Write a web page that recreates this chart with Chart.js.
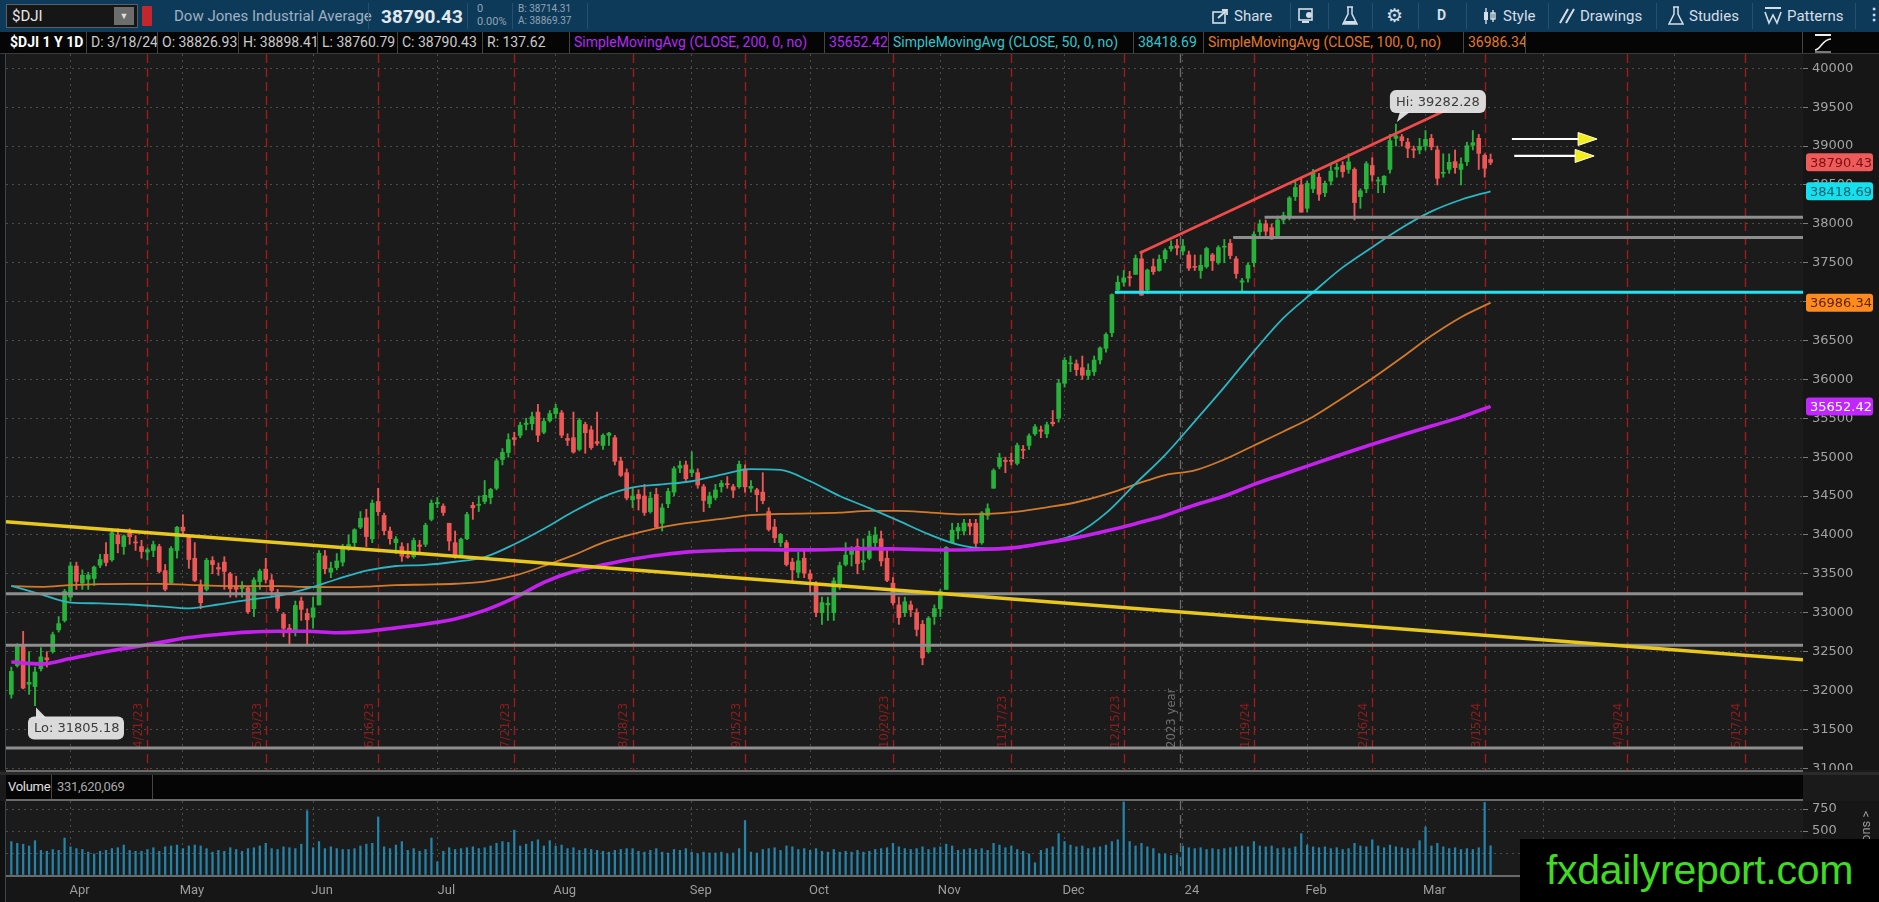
<!DOCTYPE html>
<html><head><meta charset="utf-8">
<script src="https://cdn.jsdelivr.net/npm/chart.js@4.4.1/dist/chart.umd.min.js"></script>
<style>
html,body{margin:0;padding:0;background:#1a1a1a;width:1879px;height:902px;overflow:hidden;font-family:Roboto,"Open Sans",sans-serif;}
.abs{position:absolute;}
#r1{position:absolute;left:0;top:0;width:1879px;height:32px;background:#0e3a5a;}
#r2{position:absolute;left:0;top:32px;width:1879px;height:22px;background:#050505;border-bottom:1px solid #3a3a3a;box-sizing:border-box;}
.c{position:absolute;top:0;height:21px;line-height:21px;border-right:1px solid #454545;padding-left:4px;box-sizing:border-box;white-space:nowrap;overflow:hidden;font-size:14px;color:#c9c9c9;}
.t1{position:absolute;color:#d5dee6;font-size:15px;white-space:nowrap;}
.sep{position:absolute;top:3px;width:1px;height:26px;background:#25506f;}
#vh{position:absolute;left:6px;top:775px;width:1797px;height:24px;background:#050505;}
.vc{position:absolute;top:0;height:24px;line-height:24px;border-right:1px solid #454545;padding-left:2px;box-sizing:border-box;font-size:13px;white-space:nowrap;overflow:hidden;letter-spacing:-0.3px;}
#wm{position:absolute;left:1520px;top:839px;width:359px;height:63px;background:#000;color:#3fdc22;font-family:"Liberation Sans",Arial,sans-serif;font-size:41px;line-height:63px;text-align:center;letter-spacing:-0.3px;}
canvas{position:absolute;left:0;}
</style></head><body>

<div id="r1">
  <div class="abs" style="left:6px;top:4px;width:132px;height:24px;background:#161616;border:1px solid #56606a;box-sizing:border-box;"></div>
  <div class="abs" style="left:12px;top:4px;height:24px;line-height:24px;color:#e6e6e6;font-size:15px;">$DJI</div>
  <div class="abs" style="left:114px;top:7px;width:20px;height:18px;background:#6d6d6d;color:#ddd;font-size:9px;line-height:18px;text-align:center;">&#9660;</div>
  <div class="abs" style="left:142px;top:6px;width:10px;height:20px;background:#c4262d;border-radius:1px;"></div>
  <div class="t1" style="left:174px;top:7px;color:#9fb1c2;font-size:15px;">Dow Jones Industrial Average</div>
  <div class="sep" style="left:368px;"></div>
  <div class="t1" style="left:381px;top:5px;color:#e1e8ee;font-size:19px;font-weight:bold;">38790.43</div>
  <div class="sep" style="left:467px;"></div>
  <div class="t1" style="left:477px;top:2px;color:#8ea3b5;font-size:11px;">0</div>
  <div class="t1" style="left:477px;top:15px;color:#8ea3b5;font-size:11px;">0.00%</div>
  <div class="sep" style="left:512px;"></div>
  <div class="t1" style="left:518px;top:3px;color:#8ea3b5;font-size:10px;">B: 38714.31</div>
  <div class="t1" style="left:518px;top:15px;color:#8ea3b5;font-size:10px;">A: 38869.37</div>
  <div class="sep" style="left:587px;"></div>

  <svg class="abs" style="left:1212px;top:8px" width="18" height="16" viewBox="0 0 18 16"><rect x="1" y="4" width="12" height="11" fill="none" stroke="#d5dee6" stroke-width="1.6"/><path d="M6 10 L15 2 M10 2 L15 2 L15 7" fill="none" stroke="#d5dee6" stroke-width="1.8"/></svg>
  <div class="t1" style="left:1234px;top:7px;">Share</div>
  <div class="sep" style="left:1290px;"></div>
  <svg class="abs" style="left:1298px;top:7px" width="18" height="18" viewBox="0 0 18 18"><rect x="1" y="2" width="13" height="11" fill="none" stroke="#d5dee6" stroke-width="1.6"/><circle cx="11" cy="8" r="3" fill="#d5dee6"/><rect x="4" y="14" width="7" height="2" fill="#d5dee6"/></svg>
  <div class="sep" style="left:1328px;"></div>
  <svg class="abs" style="left:1342px;top:6px" width="16" height="20" viewBox="0 0 16 20"><path d="M5 1 H11 M6 1 V8 L1 18 H15 L10 8 V1" fill="none" stroke="#d5dee6" stroke-width="1.5"/><path d="M3 15 L13 15 L14.5 18 H1.5Z" fill="#d5dee6"/></svg>
  <div class="sep" style="left:1372px;"></div>
  <div class="t1" style="left:1386px;top:4px;font-family:'DejaVu Sans';font-size:19px;">&#9881;</div>
  <div class="sep" style="left:1418px;"></div>
  <div class="t1" style="left:1437px;top:7px;font-weight:bold;font-size:14px;">D</div>
  <div class="sep" style="left:1466px;"></div>
  <svg class="abs" style="left:1482px;top:7px" width="16" height="18" viewBox="0 0 16 18"><path d="M4 1 V17 M11 3 V15" stroke="#d5dee6" stroke-width="1.4"/><rect x="2" y="5" width="4" height="8" fill="#d5dee6"/><rect x="9" y="6" width="4" height="6" fill="none" stroke="#d5dee6" stroke-width="1.4"/></svg>
  <div class="t1" style="left:1503px;top:7px;">Style</div>
  <div class="sep" style="left:1548px;"></div>
  <svg class="abs" style="left:1558px;top:8px" width="18" height="16" viewBox="0 0 18 16"><path d="M2 15 L10 1 M8 15 L16 1" stroke="#d5dee6" stroke-width="2"/></svg>
  <div class="t1" style="left:1580px;top:7px;">Drawings</div>
  <div class="sep" style="left:1656px;"></div>
  <svg class="abs" style="left:1668px;top:6px" width="16" height="20" viewBox="0 0 16 20"><path d="M5 1 H11 M6 1 V8 L1 18 H15 L10 8 V1" fill="none" stroke="#d5dee6" stroke-width="1.5"/></svg>
  <div class="t1" style="left:1689px;top:7px;">Studies</div>
  <div class="sep" style="left:1752px;"></div>
  <svg class="abs" style="left:1764px;top:6px" width="18" height="20" viewBox="0 0 18 20"><path d="M1 2 H17" stroke="#d5dee6" stroke-width="2"/><path d="M1 6 L5 17 L9 9 L13 17 L17 6" fill="none" stroke="#d5dee6" stroke-width="1.6"/></svg>
  <div class="t1" style="left:1787px;top:7px;">Patterns</div>
  <div class="sep" style="left:1855px;"></div>
  <div class="t1" style="left:1866px;top:5px;font-size:16px;font-weight:bold;">&#8942;</div>
</div>

<div id="r2">
  <div class="c" style="left:6px;width:81px;color:#fff;font-weight:bold;">$DJI 1 Y 1D</div>
  <div class="c" style="left:87px;width:71px;">D: 3/18/24</div>
  <div class="c" style="left:158px;width:81px;">O: 38826.93</div>
  <div class="c" style="left:239px;width:79px;">H: 38898.41</div>
  <div class="c" style="left:318px;width:80px;">L: 38760.79</div>
  <div class="c" style="left:398px;width:85px;">C: 38790.43</div>
  <div class="c" style="left:483px;width:87px;">R: 137.62</div>
  <div class="c" style="left:570px;width:255px;color:#b02cf0;">SimpleMovingAvg (CLOSE, 200, 0, no)</div>
  <div class="c" style="left:825px;width:64px;color:#b02cf0;">35652.42</div>
  <div class="c" style="left:889px;width:245px;color:#2ec7cf;">SimpleMovingAvg (CLOSE, 50, 0, no)</div>
  <div class="c" style="left:1134px;width:70px;color:#2ec7cf;">38418.69</div>
  <div class="c" style="left:1204px;width:260px;color:#e07a2a;">SimpleMovingAvg (CLOSE, 100, 0, no)</div>
  <div class="c" style="left:1464px;width:62px;color:#e07a2a;">36986.34</div>
  <div class="c" style="left:1526px;width:277px;"></div>
  <svg class="abs" style="left:1812px;top:1px" width="22" height="20" viewBox="0 0 22 20"><path d="M3 2 H19" stroke="#eee" stroke-width="2"/><path d="M3 17 C9 17 10 6 19 6" fill="none" stroke="#eee" stroke-width="1.6"/><path d="M3 19 H19" stroke="#eee" stroke-width="1"/></svg>
</div>

<canvas id="pc" width="1879" height="716" style="top:54px;"></canvas>
<div class="abs" style="left:6px;top:770px;width:1797px;height:2px;background:#6a6a6a;"></div>
<div class="abs" style="left:0px;top:772px;width:1879px;height:3px;background:#2a2a2a;"></div>
<div id="vh">
  <div class="vc" style="left:0;width:46px;color:#e0e0e0;">Volume</div>
  <div class="vc" style="left:47px;width:100px;color:#a8a8a8;padding-left:4px;">331,620,069</div>
</div>
<div class="abs" style="left:6px;top:799px;width:1797px;height:2px;background:#6a6a6a;"></div>
<canvas id="vc" width="1879" height="101" style="top:801px;"></canvas>
<div class="abs" style="left:1856px;top:806px;width:20px;height:60px;">
  <div style="position:absolute;left:0;top:0;width:60px;height:20px;transform-origin:0 0;transform:translate(0px,60px) rotate(-90deg);color:#9a9a9a;font-size:13px;line-height:20px;white-space:nowrap;text-align:left;">Millions &gt;</div>
</div>
<div id="wm">fxdailyreport.com</div>

<script>
// ================= DATA =================
// Trading-day index: Apr 3 2023 = 0. First candle (Mar 20 2023) = -10.
const firstIndex = -10;
// Daily candles [open, high, low, close]
const mar23 = [[31950,32300,31900,32245],[32320,32600,32300,32560],[32570,32760,32020,32030],[32080,32500,31950,32105],[32050,32300,31805.18,32237],[32280,32550,32250,32432],[32420,32500,32300,32394],[32500,32750,32480,32717],[32780,32950,32750,32859],[32900,33300,32880,33274]];
const apr23 = [[33200,33650,33150,33601],[33600,33650,33300,33402],[33380,33550,33300,33482],[33430,33520,33300,33485],[33440,33600,33350,33587],[33610,33750,33580,33684],[33750,33900,33600,33646],[33680,34050,33660,34029],[34000,34080,33770,33886],[33850,34000,33750,33987],[34020,34080,33880,33976],[33900,33990,33800,33897],[33850,33930,33700,33786],[33780,33830,33680,33808],[33800,33920,33720,33875],[33850,33880,33510,33530],[33540,33620,33280,33301],[33380,33850,33370,33826],[33800,34110,33700,34098]];
const may23 = [[34100,34260,34000,34051],[33990,34000,33570,33684],[33700,33900,33400,33414],[33350,33420,33050,33128],[33300,33700,33280,33674],[33670,33720,33500,33619],[33580,33640,33480,33562],[33650,33720,33300,33531],[33500,33520,33200,33309],[33350,33470,33200,33300],[33310,33400,33200,33349],[33320,33340,32990,33012],[33050,33450,32950,33420],[33400,33560,33300,33535],[33560,33700,33380,33427],[33420,33490,33220,33286],[33260,33300,33020,33056],[32980,33000,32690,32800],[32800,32850,32600,32764],[32770,33150,32700,33093],[33150,33200,32900,33043],[32990,33050,32580,32908]];
const jun23 = [[32940,33200,32800,33062],[33100,33800,33100,33763],[33730,33800,33500,33563],[33520,33650,33450,33573],[33580,33760,33550,33665],[33650,33880,33600,33834],[33850,34000,33800,33876],[33900,34080,33850,34066],[34100,34300,34080,34212],[34220,34330,33850,33979],[33950,34450,33900,34408],[34430,34600,34250,34299],[34250,34280,34000,34054],[34050,34100,33880,33952],[33900,33980,33760,33947],[33850,33900,33660,33727],[33730,33890,33700,33715],[33720,33960,33700,33927],[33870,33930,33750,33853],[33880,34150,33850,34123],[34200,34450,34180,34408]];
const jul23 = [[34400,34480,34350,34418],[34370,34400,34250,34288],[34150,34150,33800,33922],[33900,34050,33700,33734],[33740,33960,33710,33945],[33950,34290,33940,34262],[34380,34420,34200,34348],[34380,34500,34300,34395],[34430,34700,34400,34509],[34480,34600,34400,34585],[34600,34980,34580,34952],[34970,35110,34900,35061],[35060,35300,35000,35225],[35250,35320,35150,35228],[35280,35450,35250,35411],[35420,35500,35350,35438],[35430,35580,35350,35520],[35580,35680,35200,35282],[35320,35500,35300,35459],[35470,35600,35450,35560]];
const aug23 = [[35560,35680,35500,35630],[35570,35600,35250,35283],[35240,35300,35150,35216],[35250,35580,35050,35066],[35100,35500,35080,35474],[35420,35450,35050,35314],[35350,35400,35100,35123],[35200,35580,35150,35176],[35150,35300,35100,35281],[35280,35320,35150,35308],[35250,35280,34900,34946],[34950,35000,34750,34766],[34800,34850,34450,34475],[34450,34600,34350,34500],[34520,34580,34320,34464],[34500,34650,34250,34288],[34300,34550,34280,34473],[34520,34600,34080,34099],[34150,34400,34050,34347],[34400,34600,34350,34559],[34550,34880,34500,34852],[34860,34950,34800,34891],[34900,34950,34700,34722]];
const sep23 = [[34800,35070,34750,34838],[34800,34850,34600,34642],[34620,34650,34300,34443],[34400,34550,34350,34500],[34480,34650,34450,34577],[34620,34700,34550,34664],[34650,34750,34600,34646],[34620,34650,34480,34576],[34620,34950,34600,34907],[34850,34900,34550,34618],[34600,34700,34550,34625],[34580,34600,34300,34518],[34550,34800,34400,34441],[34300,34350,34050,34070],[34100,34200,33900,33964],[33900,34020,33850,34007],[33900,33930,33600,33619],[33650,33700,33400,33551],[33520,33780,33450,33667],[33700,33800,33450,33508]];
const oct23 = [[33500,33550,33250,33433],[33350,33400,32950,33002],[33000,33200,32850,33129],[33100,33200,32900,33120],[33000,33450,32900,33408],[33350,33650,33300,33605],[33620,33900,33600,33740],[33750,33850,33600,33805],[33850,33950,33500,33631],[33650,33950,33550,33670],[33700,34050,33680,33985],[33900,34100,33850,33998],[33950,34050,33600,33665],[33700,33800,33400,33415],[33380,33450,33100,33127],[33100,33200,32850,32937],[33000,33200,32950,33141],[33100,33150,32950,33036],[33000,33050,32700,32785],[32850,32900,32330,32418],[32500,32950,32480,32929],[32950,33100,32850,33053]];
const nov23 = [[33050,33300,32950,33275],[33300,33850,33300,33839],[33900,34150,33900,34061],[34050,34150,33950,34096],[34050,34200,34000,34153],[34150,34200,34000,34112],[34150,34200,33850,33892],[33900,34300,33880,34283],[34250,34400,34200,34338],[34600,34850,34600,34828],[34880,35050,34850,34991],[34950,35000,34800,34945],[34950,35050,34900,34947],[34920,35180,34900,35151],[35100,35150,34980,35088],[35150,35300,35100,35273],[35300,35420,35280,35390],[35350,35400,35250,35333],[35300,35450,35250,35416],[35450,35600,35400,35430],[35500,36000,35450,35951]];
const dec23 = [[35950,36280,35900,36246],[36200,36300,36100,36204],[36200,36250,36050,36125],[36150,36300,36000,36054],[36050,36200,36000,36117],[36100,36300,36050,36248],[36250,36420,36200,36405],[36400,36600,36350,36577],[36600,37100,36550,37090],[37150,37330,37100,37248],[37250,37400,37200,37306],[37310,37390,37200,37306],[37350,37600,37350,37558],[37550,37650,37080,37083],[37150,37420,37100,37405],[37450,37550,37350,37385],[37400,37600,37390,37545],[37550,37680,37500,37657],[37680,37780,37650,37710],[37720,37800,37600,37690]];
const jan24 = [[37650,37800,37600,37715],[37600,37650,37400,37430],[37450,37600,37400,37440],[37400,37600,37300,37466],[37450,37700,37430,37683],[37600,37620,37400,37525],[37500,37720,37480,37695],[37700,37800,37500,37711],[37750,37800,37550,37593],[37550,37580,37300,37361],[37250,37300,37120,37267],[37300,37500,37250,37469],[37500,37900,37450,37864],[37900,38050,37850,38001],[38000,38050,37850,37905],[37950,38000,37800,37806],[37850,38100,37820,38049],[38050,38150,38000,38109],[38100,38350,38050,38333],[38350,38550,38300,38467],[38500,38600,38150,38150]];
const feb24 = [[38200,38550,38150,38520],[38450,38700,38400,38654],[38600,38650,38300,38380],[38400,38550,38350,38521],[38550,38750,38500,38677],[38700,38780,38600,38726],[38750,38800,38600,38671],[38700,38900,38650,38797],[38700,38720,38050,38273],[38350,38450,38200,38424],[38450,38800,38400,38773],[38750,38850,38550,38628],[38550,38600,38400,38564],[38500,38620,38400,38612],[38700,39150,38650,39069],[39100,39282.28,39000,39131],[39120,39150,39000,39069],[39050,39100,38850,38972],[38950,39000,38850,38949],[38950,39100,38900,38996]];
const mar24 = [[39000,39200,38950,39087],[39100,39150,38950,38990],[38950,39000,38500,38585],[38650,38900,38600,38661],[38700,38900,38650,38791],[38800,38950,38650,38723],[38700,38850,38500,38770],[38800,39050,38750,39005],[39010,39200,38950,39043],[39100,39150,38700,38906],[38880,38900,38600,38715],[38826.93,38898.41,38760.79,38790.43]];

// Daily volume, millions
const volMar23 = [380,360,350,330,390,280,270,290,280,420];
const volApr23 = [320,300,290,260,240,270,280,300,310,340,280,270,270,290,310,270,320,330,340];
const volMay23 = [300,330,340,330,300,260,280,270,310,290,270,300,310,330,360,300,290,320,310,300,350,730];
const volJun23 = [310,380,300,320,300,290,290,300,330,350,360,660,320,300,340,380,280,300,270,290,420];
const volJul23 = [150,270,310,290,300,310,320,300,310,330,360,380,370,510,330,350,380,400,330,390];
const volAug23 = [330,340,300,310,280,300,290,280,270,260,280,290,300,300,270,260,280,300,260,250,290,280,300];
const volSep23 = [260,240,260,250,250,260,240,250,300,620,260,250,290,300,310,280,330,320,290,300];
const volOct23 = [280,300,270,260,290,260,270,260,280,260,270,290,300,310,360,320,300,290,300,320,290,310];
const volNov23 = [320,350,330,280,290,300,290,300,280,360,340,310,330,290,270,240,140,280,300,320,470];
const volDec23 = [380,340,320,330,300,310,320,340,380,400,830,380,330,360,320,300,240,240,220,230];
const volJan24 = [330,310,300,310,290,300,290,300,310,320,330,320,380,330,320,330,300,310,300,320,470];
const volFeb24 = [340,320,310,320,300,310,290,300,360,330,320,400,330,310,340,320,310,300,300,390];
const volMar24 = [545,330,360,320,300,310,290,300,290,310,825,331.62];

// Moving averages read every 5 trading days
const smaIdx = [-10,-5,0,5,10,15,20,25,30,35,40,45,50,55,60,65,70,75,80,85,90,95,100,105,110,115,120,125,130,135,140,145,150,155,160,165,170,175,180,185,190,195,200,205,210,215,220,225,230,235,240];
const sma200 = [32365,32340,32410,32485,32550,32615,32680,32720,32750,32762,32762,32742,32760,32805,32855,32920,33030,33190,33390,33530,33615,33690,33745,33785,33800,33810,33808,33808,33815,33824,33818,33810,33806,33815,33840,33900,33965,34050,34145,34250,34385,34500,34650,34780,34910,35040,35165,35285,35400,35515,35652.42];
const sma50 = [33345,33235,33130,33120,33105,33082,33055,33105,33165,33215,33310,33430,33540,33600,33615,33655,33715,33880,34080,34300,34490,34610,34650,34690,34775,34845,34835,34690,34500,34345,34180,34010,33875,33825,33835,33900,34015,34280,34660,35030,35460,35900,36360,36790,37120,37440,37700,37950,38160,38310,38418.69];
const sma100 = [33341,33333,33355,33368,33371,33371,33358,33345,33341,33341,33330,33328,33335,33354,33362,33372,33400,33475,33600,33740,33900,34010,34100,34160,34205,34255,34270,34276,34286,34310,34310,34290,34265,34270,34300,34355,34420,34520,34650,34770,34830,34970,35150,35330,35520,35760,36010,36280,36560,36800,36986.34];

// Axes
const priceTicks = [31000,31500,32000,32500,33000,33500,34000,34500,35000,35500,36000,36500,37000,37500,38000,38500,39000,39500,40000];
const volTicks = [0,250,500,750];
const monthIdx = [0,19,41,62,82,105,125,147,168,188,209,229,249,271];
const monthNames = ['Apr','May','Jun','Jul','Aug','Sep','Oct','Nov','Dec','24','Feb','Mar','Apr','May'];
const opexIdx = [13,33,52,75,95,114,139,159,178,200,220,239,263,283];
const opexLabels = ['4/21/23','5/19/23','6/16/23','7/21/23','8/18/23','9/15/23','10/20/23','11/17/23','12/15/23','1/19/24','2/16/24','3/15/24','4/19/24','5/17/24'];
const yearIdx = 187.5, yearLabel = '2023 year';
const xMin = -10.9, xMax = 292.8;
const priceMin = 30977, priceMax = 40184;
const volMax = 841;

// Last values shown as badges on the price axis
const lastClose = 38790.43, lastSma50 = 38418.69, lastSma100 = 36986.34, lastSma200 = 35652.42;
const hiIdx = 224, hiValue = 39282.28, loIdx = -6, loValue = 31805.18;

// Drawings (data coordinates: trading-day index, price)
const yellowTrend = [[-10.9,34170],[292.8,32395]];
const redTrend = [[180.7,37625],[232.7,39470]];
const cyanLevel = [[176.5,37120],[292.8,37120]];
const grayLevels = [[[201.8,38085],[292.8,38085]],[[196.5,37823],[292.8,37823]],[[-10.9,33242],[292.8,33242]],[[-10.9,32582],[292.8,32582]],[[-10.9,31260],[292.8,31260]]];
const arrows = [[243.6,258,39091],[244,257.5,38873]];

// ================= BUILD =================
const candles = [mar23,apr23,may23,jun23,jul23,aug23,sep23,oct23,nov23,dec23,jan24,feb24,mar24].flat();
const vols = [volMar23,volApr23,volMay23,volJun23,volJul23,volAug23,volSep23,volOct23,volNov23,volDec23,volJan24,volFeb24,volMar24].flat();
const xs = candles.map((c,k)=>firstIndex+k);
const UP='#27b23c', DN='#ef5757';
const cCol = candles.map(c=>c[3]>=c[0]?UP:DN);
const pts = arr => arr.map(p=>({x:p[0],y:p[1]}));
const AX_FONT = {family:'"DejaVu Sans", sans-serif', size:13};

const lineDs = (data,color,w,order,extra) => Object.assign({type:'line',data,borderColor:color,backgroundColor:color,borderWidth:w,pointRadius:0,pointHoverRadius:0,fill:false,order,tension:0}, extra||{});

function clipArea(ctx,a){ctx.beginPath();ctx.rect(a.left,a.top,a.right-a.left,a.bottom-a.top);ctx.clip();}

const bgPlugin = {
  id:'bg',
  beforeDraw(chart){
    const {ctx,chartArea:a,width,height}=chart;
    ctx.save();
    ctx.fillStyle='#161616';ctx.fillRect(0,0,width,height);
    ctx.fillStyle='#1b1b1b';ctx.fillRect(a.left,a.top,a.right-a.left,a.bottom-a.top);
    ctx.fillStyle='#101010';ctx.fillRect(0,0,a.left,height);
    ctx.strokeStyle='#3a4652';ctx.lineWidth=1;ctx.beginPath();ctx.moveTo(a.left-0.5,0);ctx.lineTo(a.left-0.5,height);ctx.stroke();
    ctx.restore();
  }
};

function drawYearLine(chart, withLabel){
  const {ctx,chartArea:a,scales:{x}}=chart;
  const px=Math.round(x.getPixelForValue(yearIdx))+0.5;
  ctx.save();clipArea(ctx,a);
  ctx.setLineDash([9,5]);ctx.lineWidth=1.3;ctx.strokeStyle='#6c6c6c';
  ctx.beginPath();ctx.moveTo(px,a.top);ctx.lineTo(px,a.bottom);ctx.stroke();
  if(withLabel){
    ctx.setLineDash([]);ctx.fillStyle='#6e6e6e';ctx.font='13px "DejaVu Sans Condensed","DejaVu Sans",sans-serif';
    ctx.translate(px-2,a.bottom-22);ctx.rotate(-Math.PI/2);ctx.textAlign='left';ctx.textBaseline='bottom';ctx.fillText(yearLabel,0,0);
  }
  ctx.restore();
}

const priceAnnot = {
  id:'priceAnnot',
  beforeDatasetsDraw(chart){
    const {ctx,chartArea:a,scales:{x}}=chart;
    ctx.save();clipArea(ctx,a);
    ctx.setLineDash([9,5]);ctx.lineWidth=1.4;ctx.strokeStyle='#a01c1c';
    opexIdx.forEach(i=>{const px=Math.round(x.getPixelForValue(i))+0.5;ctx.beginPath();ctx.moveTo(px,a.top);ctx.lineTo(px,a.bottom);ctx.stroke();});
    ctx.setLineDash([]);
    ctx.fillStyle='#8e1c1c';ctx.font='13px "DejaVu Sans Condensed","DejaVu Sans",sans-serif';
    opexIdx.forEach((i,k)=>{const px=x.getPixelForValue(i);ctx.save();ctx.translate(px-2,a.bottom-22);ctx.rotate(-Math.PI/2);ctx.textAlign='left';ctx.textBaseline='bottom';ctx.fillText(opexLabels[k],0,0);ctx.restore();});
    ctx.restore();
    drawYearLine(chart,true);
  },
  afterDatasetsDraw(chart){
    const {ctx,chartArea:a,scales:{x,y}}=chart;
    ctx.save();clipArea(ctx,a);
    arrows.forEach(([x0,x1,v])=>{
      const p0=x.getPixelForValue(x0),p1=x.getPixelForValue(x1),py=y.getPixelForValue(v);
      ctx.strokeStyle='#ffffff';ctx.lineWidth=2.2;ctx.beginPath();ctx.moveTo(p0,py);ctx.lineTo(p1-14,py);ctx.stroke();
      ctx.fillStyle='#f2ee1a';ctx.strokeStyle='#fffbe0';ctx.lineWidth=1;
      ctx.beginPath();ctx.moveTo(p1,py);ctx.lineTo(p1-19,py-6.5);ctx.lineTo(p1-19,py+6.5);ctx.closePath();ctx.fill();ctx.stroke();
    });
    ctx.font='13px "DejaVu Sans",sans-serif';ctx.textBaseline='middle';ctx.textAlign='left';
    const bubble=(bx,by,w,h,tx,ty,tailTop,text)=>{
      ctx.fillStyle='rgba(232,232,232,0.93)';
      ctx.beginPath();
      if(ctx.roundRect) ctx.roundRect(bx,by,w,h,6); else ctx.rect(bx,by,w,h);
      ctx.fill();
      ctx.beginPath();
      if(tailTop){ctx.moveTo(bx+8,by+1);ctx.lineTo(bx+18,by+1);ctx.lineTo(tx,ty);}else{ctx.moveTo(bx+10,by+h-1);ctx.lineTo(bx+20,by+h-1);ctx.lineTo(tx,ty);}
      ctx.closePath();ctx.fill();
      ctx.fillStyle='#3b3b3b';ctx.fillText(text,bx+6,by+h/2+1);
    };
    const hx=x.getPixelForValue(hiIdx),hy=y.getPixelForValue(hiValue);
    bubble(hx-6,hy-34,96,23,hx+1,hy-2,false,'Hi: '+hiValue.toFixed(2));
    const lx=x.getPixelForValue(loIdx),ly=y.getPixelForValue(loValue);
    bubble(lx-7,ly+11,96,23,lx+1,ly+2,true,'Lo: '+loValue.toFixed(2));
    ctx.restore();
  },
  afterDraw(chart){
    const {ctx,chartArea:a,scales:{y}}=chart;
    ctx.save();
    ctx.font='13px "DejaVu Sans",sans-serif';ctx.textBaseline='middle';ctx.textAlign='left';
    [[lastClose,'#ef5a5a','#761212'],[lastSma50,'#16e0ee','#07616b'],[lastSma100,'#ff8b1e','#5c2600'],[lastSma200,'#c226ff','#ffffff']].forEach(([v,bg,fg])=>{
      const py=y.getPixelForValue(v);
      ctx.fillStyle=bg;ctx.beginPath();
      if(ctx.roundRect) ctx.roundRect(a.right+3,py-9,67,18,3); else ctx.rect(a.right+3,py-9,67,18);
      ctx.fill();
      ctx.fillStyle=fg;ctx.fillText(v.toFixed(2),a.right+7,py+1);
    });
    ctx.restore();
  }
};

const priceDatasets = [
  {type:'bar',data:candles.map((c,k)=>({x:xs[k],y:[c[2],c[1]]})),backgroundColor:cCol,barThickness:1.2,grouped:false,order:11,borderWidth:0},
  {type:'bar',data:candles.map((c,k)=>({x:xs[k],y:[c[0],c[3]]})),backgroundColor:cCol,barThickness:4,minBarLength:1,grouped:false,order:10,borderWidth:0},
  lineDs(smaIdx.map((v,k)=>({x:v,y:sma100[k]})),'#d27a2c',1.8,6,{cubicInterpolationMode:'monotone'}),
  lineDs(smaIdx.map((v,k)=>({x:v,y:sma50[k]})),'#2ab6c2',1.8,5,{cubicInterpolationMode:'monotone'}),
  lineDs(smaIdx.map((v,k)=>({x:v,y:sma200[k]})),'#c420ee',3.6,4,{cubicInterpolationMode:'monotone'}),
  ...grayLevels.map(g=>lineDs(pts(g),'#8e8e8e',3,2)),
  lineDs(pts(cyanLevel),'#1fe6f2',3,1),
  lineDs(pts(redTrend),'#f04a4a',2.6,1),
  lineDs(pts(yellowTrend),'#e8c81c',3.6,0)
];

new Chart(document.getElementById('pc'),{
  type:'bar',
  data:{datasets:priceDatasets},
  options:{
    responsive:false,animation:false,maintainAspectRatio:false,
    layout:{padding:{left:6,right:0,top:0,bottom:0}},
    plugins:{legend:{display:false},tooltip:{enabled:false}},
    events:[],
    scales:{
      x:{type:'linear',min:xMin,max:xMax,offset:false,
         afterBuildTicks:s=>{s.ticks=monthIdx.map(v=>({value:v}));},
         ticks:{display:false,autoSkip:false},
         grid:{color:'#4c4c4c',lineWidth:1,drawTicks:false,offset:false},
         border:{display:false,dash:[2,4]},
         afterFit:s=>{s.height=0;s.paddingLeft=0;s.paddingRight=0;}},
      y:{type:'linear',position:'right',min:priceMin,max:priceMax,
         afterBuildTicks:s=>{s.ticks=priceTicks.map(v=>({value:v}));},
         ticks:{autoSkip:false,color:'#a2a2a2',font:AX_FONT,padding:4,callback:v=>String(v)},
         grid:{color:'#4c4c4c',lineWidth:1,tickLength:5,tickColor:'#7a7a7a',tickWidth:1},
         border:{display:false,dash:[2,4]},
         afterFit:s=>{s.width=76;s.paddingTop=0;s.paddingBottom=0;}}
    }
  },
  plugins:[bgPlugin,priceAnnot]
});

const volAnnot = {
  id:'volAnnot',
  beforeDatasetsDraw(chart){drawYearLine(chart,false);},
  afterDraw(chart){
    const {ctx,chartArea:a}=chart;
    ctx.save();ctx.strokeStyle='#6a6a6a';ctx.lineWidth=2;ctx.beginPath();ctx.moveTo(a.left,a.bottom+1);ctx.lineTo(a.right,a.bottom+1);ctx.stroke();ctx.restore();
  }
};

new Chart(document.getElementById('vc'),{
  type:'bar',
  data:{datasets:[{data:vols.map((v,k)=>({x:xs[k],y:v})),backgroundColor:'#2383a8',barThickness:1.6,borderWidth:0}]},
  options:{
    responsive:false,animation:false,maintainAspectRatio:false,
    layout:{padding:{left:6,right:0,top:0,bottom:0}},
    plugins:{legend:{display:false},tooltip:{enabled:false}},
    events:[],
    scales:{
      x:{type:'linear',min:xMin,max:xMax,offset:false,
         afterBuildTicks:s=>{s.ticks=monthIdx.map(v=>({value:v}));},
         ticks:{autoSkip:false,maxRotation:0,color:'#9c9c9c',font:{family:'Roboto, sans-serif',size:13},padding:8,labelOffset:9,
                callback:v=>monthNames[monthIdx.indexOf(v)]},
         grid:{color:'#4c4c4c',lineWidth:1,drawTicks:false,offset:false},
         border:{display:false,dash:[2,4]},
         afterFit:s=>{s.height=27;s.paddingLeft=0;s.paddingRight=0;}},
      y:{type:'linear',position:'right',min:0,max:volMax,
         afterBuildTicks:s=>{s.ticks=volTicks.map(v=>({value:v}));},
         ticks:{autoSkip:false,color:'#a2a2a2',font:AX_FONT,padding:4,callback:v=>String(v)},
         grid:{color:'#4c4c4c',lineWidth:1,tickLength:5,tickColor:'#7a7a7a'},
         border:{display:false,dash:[2,4]},
         afterFit:s=>{s.width=76;s.paddingTop=0;s.paddingBottom=0;}}
    }
  },
  plugins:[bgPlugin,volAnnot]
});
</script>
</body></html>
